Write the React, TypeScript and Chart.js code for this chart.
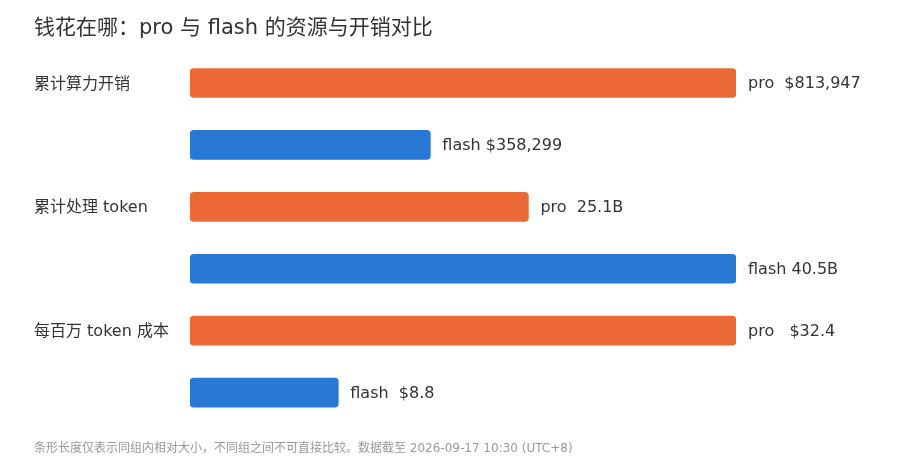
import { useEffect, useRef } from 'react';
import Chart from 'chart.js/auto';

const groups = ['累计算力开销', '累计处理 token', '每百万 token 成本'];
const proValues = [813947, 25.1, 32.4];
const flashValues = [358299, 40.5, 8.8];
const proLabels = ['pro  $813,947', 'pro  25.1B', 'pro   $32.4'];
const flashLabels = ['flash $358,299', 'flash 40.5B', 'flash  $8.8'];

const PRO_COLOR = '#ec6935';
const FLASH_COLOR = '#2878d6';
const FONT = "'DejaVu Sans', 'Noto Sans CJK SC', sans-serif";

export default function App() {
  const canvasRef = useRef<HTMLCanvasElement>(null);

  useEffect(() => {
    if (!canvasRef.current) return;
    document.body.style.margin = '0';

    // one row per bar: pro then flash for each group
    const rowLabels: string[] = [];
    const values: number[] = [];
    const colors: string[] = [];
    const texts: string[] = [];
    groups.forEach((g, i) => {
      const max = Math.max(proValues[i], flashValues[i]);
      rowLabels.push(g, '');
      values.push(proValues[i] / max, flashValues[i] / max);
      colors.push(PRO_COLOR, FLASH_COLOR);
      texts.push(proLabels[i], flashLabels[i]);
    });

    const valueLabelPlugin = {
      id: 'valueLabels',
      afterDatasetsDraw(chart: Chart) {
        const ctx = chart.ctx;
        const meta = chart.getDatasetMeta(0);
        ctx.save();
        ctx.font = `16px ${FONT}`;
        ctx.fillStyle = '#333333';
        ctx.textAlign = 'left';
        ctx.textBaseline = 'middle';
        meta.data.forEach((bar: any, i: number) => {
          ctx.fillText(texts[i], bar.x + 12, bar.y + 1);
        });
        ctx.restore();
      },
    };

    const chart = new Chart(canvasRef.current, {
      type: 'bar',
      data: {
        labels: rowLabels,
        datasets: [
          {
            data: values,
            backgroundColor: colors,
            borderRadius: 4,
            borderSkipped: false,
            barThickness: 29,
          },
        ],
      },
      options: {
        indexAxis: 'y',
        animation: false,
        responsive: true,
        maintainAspectRatio: false,
        layout: { padding: { left: 34, right: 164, top: 0, bottom: 0 } },
        plugins: {
          legend: { display: false },
          tooltip: { enabled: false },
          title: {
            display: true,
            text: '钱花在哪：pro 与 flash 的资源与开销对比',
            align: 'start',
            color: '#333333',
            font: { family: FONT, size: 21, weight: 'normal' },
            padding: { top: 16, bottom: 10.8 },
          },
          subtitle: {
            display: true,
            position: 'bottom',
            text: '条形长度仅表示同组内相对大小，不同组之间不可直接比较。数据截至 2026-09-17 10:30 (UTC+8)',
            align: 'start',
            color: '#999999',
            font: { family: FONT, size: 12, weight: 'normal' },
            padding: { top: 18, bottom: 8 },
          },
        },
        scales: {
          x: { display: false, min: 0, max: 1 },
          y: {
            grid: { display: false },
            border: { display: false },
            afterFit(scale: any) {
              scale.width = 156;
            },
            ticks: {
              crossAlign: 'far',
              color: '#333333',
              font: { family: FONT, size: 16 },
              autoSkip: false,
              labelOffset: 1.5,
            },
          },
        },
      },
      plugins: [valueLabelPlugin],
    });

    return () => chart.destroy();
  }, []);

  return (
    <div style={{ position: 'absolute', left: 0, top: 0, width: 900, height: 464, background: '#fff' }}>
      <canvas ref={canvasRef} />
    </div>
  );
}
